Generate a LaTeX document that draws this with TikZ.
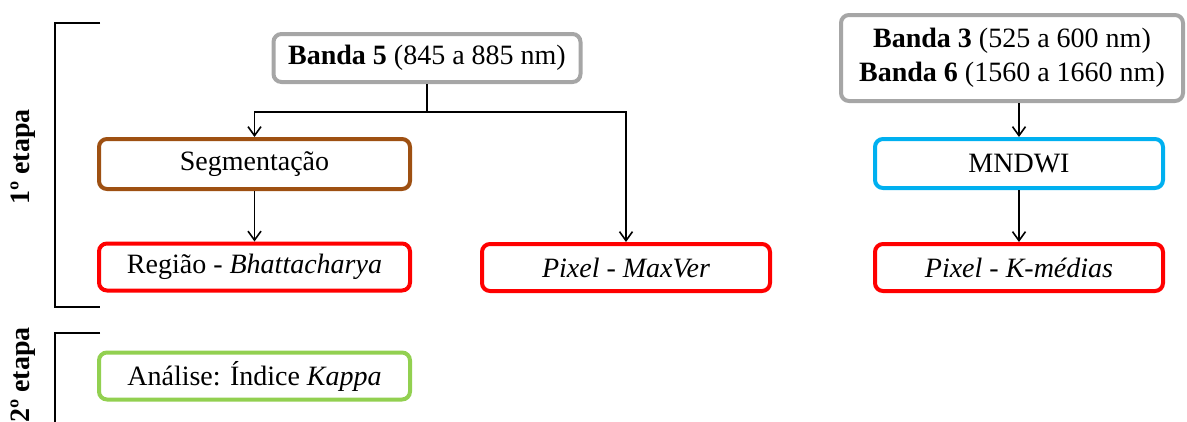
\documentclass[tikz,border=0pt]{standalone}
\usepackage{fontspec}
\setmainfont{Liberation Serif}
\usepackage{tikz}
\usetikzlibrary{arrows.meta}

\definecolor{bandgray}{RGB}{166,166,166}
\definecolor{segbrown}{RGB}{158,80,18}
\definecolor{indexcyan}{RGB}{0,176,240}
\definecolor{classred}{RGB}{255,0,0}
\definecolor{evalgreen}{RGB}{146,208,80}

\tikzset{
  stagebox/.style={draw,fill=white,rounded corners=8pt,line width=4pt,
    minimum height=47pt,inner sep=2pt},
  link/.style={line width=1.6pt,-{Straight Barb[length=9pt,width=13pt]}},
  bracket/.style={line width=2pt}
}

\begin{document}
\begin{tikzpicture}[x=1pt,y=-1pt,font=\fontsize{28}{34}\selectfont]
			\useasboundingbox (0,0) rectangle (1187,421);
			% etapas
			\draw[bracket] (100,23) -| (55,307) -- (100,307);
			\draw[bracket] (100,333) -| (55,440);
			\node[rotate=90,font=\fontsize{28}{34}\selectfont\bfseries] (et1) at (23,157) {1º etapa};
			\node[rotate=90,font=\fontsize{28}{34}\selectfont\bfseries] (et2) at (23,375) {2º etapa};
			% bandas
			\node[stagebox,draw=bandgray,minimum width=307pt,minimum height=48pt] (b5) at (427,58) {\textbf{Banda 5} (845 a 885 nm)};
			\node[stagebox,draw=bandgray,minimum width=342pt,minimum height=86pt,align=center] (b36) at (1012,58)
				{\textbf{Banda 3} (525 a 600 nm)\\\textbf{Banda 6} (1560 a 1660 nm)};
			% processamento
			\node[stagebox,draw=segbrown,minimum width=311pt,minimum height=50pt] (seg) at (254.5,164) {Segmentação};
			\node[stagebox,draw=indexcyan,minimum width=288pt,minimum height=49pt] (mndwi) at (1019,163.5) {MNDWI};
			% classificadores
			\node[stagebox,draw=classred,minimum width=311pt] (reg) at (254.5,267) {Região - \textit{Bhattacharya}};
			\node[stagebox,draw=classred,minimum width=288pt] (maxver) at (626,267.5) {\textit{Pixel} - \textit{MaxVer}};
			\node[stagebox,draw=classred,minimum width=288pt] (kmed) at (1019,267.5) {\textit{Pixel} - \textit{K-médias}};
			% analise
			\node[stagebox,draw=evalgreen,minimum width=311pt] (kappa) at (254.5,376) {Análise: Índice \textit{Kappa}};
			% ligacoes
			\coordinate (split) at (427,112);
			\draw[line width=1.6pt] (b5.south) -- (split);
			\draw[link] (split) -| (seg.north);
			\draw[link] (split) -| (maxver.north);
			\draw[link] (seg) -- (reg);
			\draw[link] (b36.south -| mndwi.north) -- (mndwi.north);
			\draw[link] (mndwi) -- (kmed);
		\end{tikzpicture}
\end{document}
